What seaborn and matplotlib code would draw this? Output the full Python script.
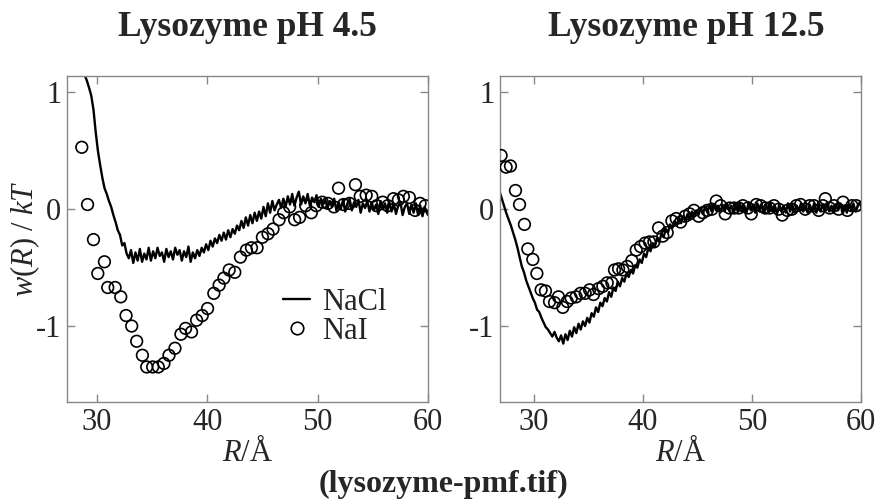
import numpy as np
import pandas as pd
import matplotlib
matplotlib.use("Agg")
import matplotlib.pyplot as plt
from matplotlib.lines import Line2D
import seaborn as sns

# sampling grid of the NaCl simulation curves (R in Angstrom)
r_line = [26.9, 27.1, 27.3, 27.5, 27.7, 27.9, 28.1, 28.3, 28.5, 28.7,
          28.9, 29.1, 29.3, 29.5, 29.7, 29.9, 30.1, 30.3, 30.5, 30.7,
          30.9, 31.1, 31.3, 31.5, 31.7, 31.9, 32.1, 32.3, 32.5, 32.7,
          32.9, 33.1, 33.3, 33.5, 33.7, 33.9, 34.1, 34.3, 34.5, 34.7,
          34.9, 35.1, 35.3, 35.5, 35.7, 35.9, 36.1, 36.3, 36.5, 36.7,
          36.9, 37.1, 37.3, 37.5, 37.7, 37.9, 38.1, 38.3, 38.5, 38.7,
          38.9, 39.1, 39.3, 39.5, 39.7, 39.9, 40.1, 40.3, 40.5, 40.7,
          40.9, 41.1, 41.3, 41.5, 41.7, 41.9, 42.1, 42.3, 42.5, 42.7,
          42.9, 43.1, 43.3, 43.5, 43.7, 43.9, 44.1, 44.3, 44.5, 44.7,
          44.9, 45.1, 45.3, 45.5, 45.7, 45.9, 46.1, 46.3, 46.5, 46.7,
          46.9, 47.1, 47.3, 47.5, 47.7, 47.9, 48.1, 48.3, 48.5, 48.7,
          48.9, 49.1, 49.3, 49.5, 49.7, 49.9, 50.1, 50.3, 50.5, 50.7,
          50.9, 51.1, 51.3, 51.5, 51.7, 51.9, 52.1, 52.3, 52.5, 52.7,
          52.9, 53.1, 53.3, 53.5, 53.7, 53.9, 54.1, 54.3, 54.5, 54.7,
          54.9, 55.1, 55.3, 55.5, 55.7, 55.9, 56.1, 56.3, 56.5, 56.7,
          56.9, 57.1, 57.3, 57.5, 57.7, 57.9, 58.1, 58.3, 58.5, 58.7,
          58.9, 59.1, 59.3, 59.5, 59.7, 59.9, 60.0]

# NaCl, pH 4.5 (starts at R = 28.9)
nacl_45 = [1.15, 1.10, 1.04, 0.97, 0.85, 0.66, 0.50, 0.38, 0.27, 0.18,
           0.13, 0.07, 0.02, -0.05, -0.11, -0.18, -0.22, -0.31, -0.29, -0.38,
           -0.42, -0.35, -0.46, -0.37, -0.44, -0.34, -0.45, -0.38, -0.43, -0.33,
           -0.44, -0.36, -0.42, -0.33, -0.40, -0.37, -0.45, -0.34, -0.41, -0.36,
           -0.43, -0.33, -0.39, -0.35, -0.44, -0.36, -0.41, -0.32, -0.45, -0.37,
           -0.42, -0.35, -0.40, -0.33, -0.37, -0.30, -0.35, -0.27, -0.32, -0.25,
           -0.29, -0.22, -0.27, -0.20, -0.26, -0.18, -0.24, -0.17, -0.21, -0.14,
           -0.18, -0.10, -0.16, -0.07, -0.14, -0.05, -0.12, -0.03, -0.10, -0.02,
           -0.08, 0.02, -0.06, 0.05, -0.03, 0.07, -0.01, 0.04, 0.08, 0.01,
           0.09, 0.02, 0.11, 0.04, 0.13, 0.03, 0.10, 0.15, 0.04, 0.11,
           0.05, 0.13, 0.03, 0.10, 0.06, 0.12, 0.02, 0.09, 0.04, 0.08,
           0.01, 0.07, 0.02, 0.09, -0.01, 0.06, 0.00, 0.08, -0.02, 0.05,
           0.09, -0.01, 0.06, 0.02, 0.08, -0.03, 0.05, 0.01, 0.07, -0.02,
           0.06, -0.01, 0.04, -0.04, 0.07, 0.00, 0.05, -0.03, 0.06, -0.02,
           0.05, -0.04, 0.03, 0.06, -0.05, 0.02, 0.05, -0.04, 0.04, -0.03,
           0.05, -0.05, 0.03, -0.06, 0.02, -0.03, -0.05]

# NaCl, pH 12.5 (full grid)
nacl_125 = [0.14, 0.08, 0.02, -0.04, -0.09, -0.14, -0.20, -0.26, -0.33, -0.41,
            -0.49, -0.54, -0.61, -0.66, -0.71, -0.76, -0.80, -0.86, -0.88, -0.93,
            -0.97, -1.01, -1.03, -1.06, -1.09, -1.05, -1.10, -1.13, -1.08, -1.15,
            -1.07, -1.12, -1.04, -1.09, -1.01, -1.06, -0.98, -1.03, -0.96, -1.00,
            -0.93, -0.97, -0.89, -0.92, -0.84, -0.88, -0.80, -0.83, -0.76, -0.79,
            -0.71, -0.75, -0.67, -0.70, -0.62, -0.66, -0.59, -0.62, -0.55, -0.58,
            -0.52, -0.55, -0.48, -0.50, -0.43, -0.46, -0.38, -0.41, -0.33, -0.36,
            -0.29, -0.32, -0.25, -0.28, -0.21, -0.24, -0.17, -0.20, -0.13, -0.16,
            -0.10, -0.14, -0.08, -0.12, -0.06, -0.10, -0.04, -0.09, -0.02, -0.06,
            -0.01, -0.05, 0.01, -0.04, 0.02, -0.02, 0.03, -0.02, 0.04, -0.01,
            0.03, -0.03, 0.04, -0.02, 0.05, -0.01, 0.03, -0.03, 0.04, -0.02,
            0.05, -0.02, 0.03, -0.03, 0.06, -0.01, 0.04, -0.03, 0.05, -0.02,
            0.04, -0.03, 0.03, -0.02, 0.05, -0.01, 0.03, -0.04, 0.04, -0.02,
            0.03, -0.03, 0.05, -0.02, 0.04, -0.03, 0.03, -0.01, 0.05, -0.02,
            0.03, -0.03, 0.04, -0.02, 0.05, -0.03, 0.03, -0.02, 0.04, -0.01,
            0.05, -0.02, 0.03, -0.03, 0.04, -0.01, 0.05, -0.02, 0.03, -0.03,
            0.04, -0.01, 0.05, -0.02, 0.03, 0.06, 0.02]

# NaI points, pH 4.5
r_nai_45 = [28.64, 29.16, 29.70, 30.09, 30.69, 30.99, 31.66, 32.17, 32.65, 33.16,
            33.61, 34.13, 34.52, 35.06, 35.57, 36.08, 36.54, 37.08, 37.62, 38.04,
            38.58, 39.04, 39.55, 40.03, 40.60, 41.08, 41.51, 41.99, 42.50, 43.01,
            43.55, 44.01, 44.52, 45.00, 45.51, 45.96, 46.51, 46.93, 47.47, 47.92,
            48.37, 48.92, 49.43, 49.88, 50.42, 50.93, 51.48, 51.90, 52.35, 52.89,
            53.43, 53.86, 54.40, 54.91, 55.36, 55.90, 56.36, 56.87, 57.32, 57.77,
            58.31, 58.83, 59.28, 59.76]
nai_45 = [0.53, 0.04, -0.26, -0.55, -0.45, -0.67, -0.67, -0.75, -0.91, -1.00,
          -1.13, -1.25, -1.35, -1.35, -1.35, -1.32, -1.25, -1.19, -1.07, -1.02,
          -1.05, -0.95, -0.91, -0.85, -0.72, -0.65, -0.59, -0.52, -0.54, -0.41,
          -0.35, -0.33, -0.33, -0.24, -0.21, -0.17, -0.09, -0.03, 0.02, -0.09,
          -0.07, 0.03, -0.03, 0.03, 0.06, 0.05, 0.02, 0.18, 0.04, 0.05,
          0.21, 0.11, 0.12, 0.11, 0.03, 0.06, 0.03, 0.09, 0.08, 0.11,
          0.10, -0.01, 0.05, 0.03]

# NaI points, pH 12.5
r_nai_125 = [27.00, 27.46, 27.86, 28.32, 28.69, 29.14, 29.45, 29.91, 30.28, 30.67,
             31.07, 31.44, 31.90, 32.26, 32.66, 33.06, 33.43, 33.88, 34.28, 34.71,
             35.11, 35.47, 35.93, 36.33, 36.73, 37.16, 37.40, 37.77, 38.17, 38.56,
             38.99, 39.39, 39.79, 40.21, 40.61, 41.01, 41.44, 41.83, 42.23, 42.66,
             43.06, 43.46, 43.88, 44.28, 44.68, 45.11, 45.50, 45.90, 46.33, 46.73,
             47.13, 47.55, 47.95, 48.35, 48.78, 49.17, 49.63, 49.94, 50.40, 50.80,
             51.22, 51.62, 52.02, 52.45, 52.78, 53.24, 53.67, 54.07, 54.46, 54.89,
             55.29, 55.69, 56.12, 56.51, 56.73, 57.13, 57.52, 57.95, 58.35, 58.75,
             59.17, 59.57]
nai_125 = [0.46, 0.36, 0.37, 0.16, 0.04, -0.13, -0.34, -0.43, -0.55, -0.69,
           -0.70, -0.79, -0.80, -0.75, -0.84, -0.79, -0.76, -0.75, -0.72, -0.72,
           -0.69, -0.73, -0.68, -0.66, -0.63, -0.63, -0.52, -0.51, -0.52, -0.49,
           -0.44, -0.35, -0.32, -0.29, -0.28, -0.28, -0.16, -0.23, -0.20, -0.10,
           -0.08, -0.11, -0.06, -0.04, -0.01, -0.06, -0.03, -0.01, 0.00, 0.07,
           0.03, -0.04, 0.01, 0.01, 0.01, 0.03, 0.01, -0.04, 0.04, 0.03,
           0.01, 0.01, 0.03, 0.00, -0.05, -0.01, 0.00, 0.03, 0.04, 0.00,
           0.03, 0.03, -0.01, 0.03, 0.09, 0.01, 0.03, 0.00, 0.06, -0.01,
           0.03, 0.03]

titles = ["Lysozyme pH 4.5", "Lysozyme pH 12.5"]
yticks = [-1, 0, 1]
xticks = [30, 40, 50, 60]

sns.set_style("ticks")
plt.rcParams["font.family"] = ["Liberation Serif", "DejaVu Serif"]
plt.rcParams["mathtext.fontset"] = "custom"
plt.rcParams["mathtext.rm"] = "Liberation Serif"
plt.rcParams["mathtext.it"] = "Liberation Serif:italic"
plt.rcParams["axes.unicode_minus"] = False

fig = plt.figure(figsize=(8.8, 5.01), dpi=100)
ax1 = fig.add_axes([67 / 880, 1 - 402 / 501, 361 / 880, 326 / 501])
ax2 = fig.add_axes([500 / 880, 1 - 402 / 501, 361 / 880, 326 / 501])

panels = [
    (ax1, r_line[10:], nacl_45, r_nai_45, nai_45, (27.3, 60)),
    (ax2, r_line, nacl_125, r_nai_125, nai_125, (26.9, 60)),
]

for ax, rl, yl, rp, yp, xl in panels:
    sns.lineplot(x=rl, y=yl, sort=False, estimator=None, color="black",
                 linewidth=1.7, ax=ax)
    sns.scatterplot(x=rp, y=yp, marker="o", s=70, facecolor="none",
                    edgecolor="black", linewidth=1.2, ax=ax, zorder=3)
    ax.set_xlim(*xl)
    ax.set_ylim(-1.65, 1.14)
    ax.set_xticks(xticks)
    ax.set_yticks(yticks)
    ax.tick_params(direction="in", length=6, width=1, color="#888888",
                   labelsize=22, top=True, right=True, pad=4)
    for sp in ax.spines.values():
        sp.set_color("#888888")
        sp.set_linewidth(1)
    ax.set_xlabel(r"$R$/Å", fontsize=22, labelpad=0)

ax1.set_ylabel(r"$w(R)\ /\ kT$", fontsize=22, labelpad=-4)
ax2.set_ylabel("")

fig.text(247.5 / 880, 1 - 27 / 501, titles[0], fontsize=25.5,
         fontweight="bold", ha="center", va="center")
fig.text(686 / 880, 1 - 27 / 501, titles[1], fontsize=25.5,
         fontweight="bold", ha="center", va="center")
fig.text(443 / 880, 1 - 484 / 501, "(lysozyme-pmf.tif)", fontsize=23,
         fontweight="bold", ha="center", va="center")

handles = [Line2D([], [], color="black", linewidth=1.7),
           Line2D([], [], linestyle="none", marker="o", markersize=9,
                  markerfacecolor="none", markeredgecolor="black",
                  markeredgewidth=1.2)]
ax1.legend(handles, ["NaCl", "NaI"], loc="center left",
           bbox_to_anchor=(0.598, 0.262), frameon=False, fontsize=22,
           handlelength=0.9, handletextpad=0.4, labelspacing=0.0,
           borderpad=0, borderaxespad=0)

fig.savefig("out.png", dpi=100)
